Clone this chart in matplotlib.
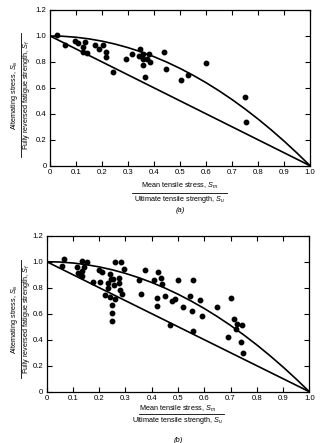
import matplotlib
matplotlib.use("Agg")
import matplotlib.pyplot as plt
from matplotlib.lines import Line2D

## values
## (a) data points
xa = [0.027, 0.059, 0.095, 0.106, 0.126, 0.133, 0.126, 0.142, 0.172, 0.19, 0.203,
      0.215, 0.217, 0.244, 0.292, 0.317, 0.347, 0.341, 0.359, 0.358, 0.359, 0.367,
      0.381, 0.373, 0.386, 0.437, 0.446, 0.504, 0.532, 0.6, 0.75, 0.754]
ya = [1.01, 0.933, 0.963, 0.943, 0.917, 0.951, 0.876, 0.869, 0.93, 0.902, 0.933,
      0.879, 0.835, 0.72, 0.82, 0.861, 0.902, 0.848, 0.861, 0.822, 0.776, 0.686,
      0.859, 0.822, 0.799, 0.874, 0.748, 0.658, 0.699, 0.794, 0.532, 0.337]

## (b) data points
xb = [0.067, 0.057, 0.114, 0.134, 0.152, 0.143, 0.136, 0.126, 0.133, 0.12, 0.176,
      0.2, 0.212, 0.204, 0.241, 0.244, 0.232, 0.235, 0.223, 0.242, 0.26, 0.248,
      0.248, 0.248, 0.252, 0.256, 0.259, 0.282, 0.275, 0.275, 0.278, 0.288, 0.294,
      0.353, 0.374, 0.36, 0.41, 0.425, 0.437, 0.438, 0.501, 0.558, 0.421, 0.421,
      0.452, 0.476, 0.49, 0.519, 0.547, 0.584, 0.553, 0.593, 0.65, 0.701, 0.47,
      0.558, 0.714, 0.726, 0.744, 0.72, 0.689, 0.741, 0.749]
yb = [1.021, 0.969, 0.959, 1.003, 1.0, 0.962, 0.931, 0.903, 0.892, 0.911, 0.842,
      0.936, 0.918, 0.844, 0.903, 0.865, 0.838, 0.795, 0.746, 0.731, 0.711, 0.665,
      0.608, 0.546, 0.867, 0.821, 0.995, 0.995, 0.877, 0.834, 0.782, 0.749, 0.944,
      0.859, 0.934, 0.752, 0.859, 0.921, 0.872, 0.826, 0.859, 0.859, 0.723, 0.662,
      0.736, 0.695, 0.713, 0.649, 0.738, 0.703, 0.621, 0.58, 0.654, 0.718, 0.515,
      0.469, 0.559, 0.518, 0.513, 0.482, 0.421, 0.385, 0.295]

## the two limit curves (upper = parabola, lower = straight line)
curve_x = [0.0, 0.05, 0.1, 0.15, 0.2, 0.25, 0.3, 0.35, 0.4, 0.45, 0.5,
           0.55, 0.6, 0.65, 0.7, 0.75, 0.8, 0.85, 0.9, 0.95, 1.0]
curve_y = [1.0, 0.9975, 0.99, 0.9775, 0.96, 0.9375, 0.91, 0.8775, 0.84, 0.7975, 0.75,
           0.6975, 0.64, 0.5775, 0.51, 0.4375, 0.36, 0.2775, 0.19, 0.0975, 0.0]
line_x = [0.0, 1.0]
line_y = [1.0, 0.0]

xticks = [0, 0.1, 0.2, 0.3, 0.4, 0.5, 0.6, 0.7, 0.8, 0.9, 1.0]
xlabels = ["0", "0.1", "0.2", "0.3", "0.4", "0.5", "0.6", "0.7", "0.8", "0.9", "1.0"]
yticks = [0, 0.2, 0.4, 0.6, 0.8, 1.0, 1.2]
ylabels = ["0", "0.2", "0.4", "0.6", "0.8", "1.0", "1.2"]

plt.rcParams['font.family'] = ['Liberation Sans', 'DejaVu Sans']
plt.rcParams['mathtext.fontset'] = 'custom'
plt.rcParams['mathtext.it'] = 'Liberation Sans:italic'
plt.rcParams['mathtext.rm'] = 'Liberation Sans'

W, H = 328, 443
fig = plt.figure(figsize=(W / 100, H / 100), dpi=100)


def px(x, y):
    ## pixel position -> figure fraction
    return x / W, 1 - y / H


def panel(rect, xs, ys, sub):
    left, top, right, bottom, xl, yl = rect
    ax = fig.add_axes([left / W, 1 - bottom / H, (right - left) / W, (bottom - top) / H])
    ax.plot(curve_x, curve_y, color='black', lw=1.2)
    ax.plot(line_x, line_y, color='black', lw=1.2)
    ax.plot(xs, ys, 'o', color='black', ms=3.2)
    ax.set_xlim(0, 1)
    ax.set_ylim(0, 1.2)
    ax.set_xticks(xticks)
    ax.set_xticklabels(xlabels)
    ax.set_yticks(yticks)
    ax.set_yticklabels(ylabels)
    ax.tick_params(direction='in', top=True, right=True, length=3.5, width=0.8,
                   labelsize=5.6, pad=2.5)
    for s in ax.spines.values():
        s.set_linewidth(0.9)

    ## x label as a fraction
    cx = (left + right) / 2
    fig.text(*px(cx, xl[0]), r"Mean tensile stress, $S_m$", fontsize=5.2,
             ha='center', va='center')
    fig.add_artist(Line2D([xl[3] / W, xl[4] / W], [1 - xl[1] / H] * 2,
                          color='black', lw=0.6))
    fig.text(*px(cx, xl[2]), r"Ultimate tensile strength, $S_u$", fontsize=5.2,
             ha='center', va='center')
    fig.text(*px(cx, xl[5]), sub, fontsize=5.5, style='italic',
             ha='center', va='center')

    ## y label as a fraction
    cy = yl[3]
    fig.text(*px(yl[0], cy), r"Alternating stress, $S_a$", fontsize=5.2,
             rotation=90, ha='center', va='center')
    fig.add_artist(Line2D([yl[1] / W] * 2, [1 - yl[4] / H, 1 - yl[5] / H],
                          color='black', lw=0.6))
    fig.text(*px(yl[2], cy), r"Fully reversed fatigue strength, $S_f$", fontsize=5.2,
             rotation=90, ha='center', va='center')
    return ax


## (a)
panel((50, 10, 310, 165.7,
       (185.7, 192.7, 199.3, 132, 227, 210.7),
       (14.5, 20.5, 27, 95, 33, 157)), xa, ya, "(a)")

## (b)
panel((46.7, 235.7, 309.3, 391.7,
       (409.3, 414.3, 421, 139, 224, 440),
       (14.5, 20.5, 27, 319, 260, 378)), xb, yb, "(b)")

fig.savefig("out.png", dpi=100)
